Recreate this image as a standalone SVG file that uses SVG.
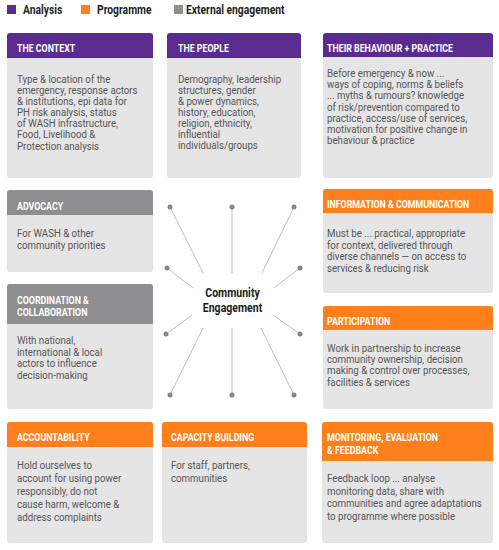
<svg xmlns="http://www.w3.org/2000/svg" width="499" height="550" viewBox="0 0 499 550">
<style>
.bg{fill:#e5e5e5}
.pu{fill:#5b2c8f}
.or{fill:#ff7f1c}
.gr{fill:#8e8e90}
.bt{font-family:Roboto,"Liberation Sans",sans-serif;font-size:11.4px;fill:#555557}
.ht{font-family:Roboto,"Liberation Sans",sans-serif;font-weight:700;font-size:11.3px;fill:#ffffff}
.lg{font-family:Roboto,"Liberation Sans",sans-serif;font-weight:700;font-size:12.3px;fill:#231f20}
.ce{font-family:Roboto,"Liberation Sans",sans-serif;font-weight:700;font-size:13.5px;fill:#1a1a1a}
.cn line{stroke:#bfbfbf;stroke-width:1}
.cn circle{fill:#858585}
</style>
<rect width="499" height="550" fill="#ffffff"/>
<g id="legend">
<rect x="7" y="5" width="9" height="9" class="pu"/>
<text class="lg" transform="translate(23,14) scale(0.84,1)">Analysis</text>
<rect x="81" y="5" width="9" height="9" class="or"/>
<text class="lg" transform="translate(97,14) scale(0.84,1)">Programme</text>
<rect x="174" y="5" width="9" height="9" class="gr"/>
<text class="lg" transform="translate(186,14) scale(0.84,1)">External engagement</text>
</g>
<g id="context">
<rect x="7" y="33" width="146" height="145" rx="3" class="bg"/>
<path d="M7,58V36a3,3 0 0 1 3,-3H150a3,3 0 0 1 3,3V58Z" class="pu"/>
<text class="ht" transform="translate(17,52) scale(0.78,1)">THE CONTEXT</text>
<text class="bt" transform="translate(17,83) scale(0.85,1)"><tspan x="0">Type &amp; location of the</tspan><tspan x="0" dy="11.1">emergency, response actors</tspan><tspan x="0" dy="11.1">&amp; institutions, epi data for</tspan><tspan x="0" dy="11.1">PH risk analysis, status</tspan><tspan x="0" dy="11.1">of WASH infrastructure,</tspan><tspan x="0" dy="11.1">Food, Livelihood &amp;</tspan><tspan x="0" dy="11.1">Protection analysis</tspan></text>
</g>
<g id="people">
<rect x="167" y="33" width="134" height="145" rx="3" class="bg"/>
<path d="M167,58V36a3,3 0 0 1 3,-3H298a3,3 0 0 1 3,3V58Z" class="pu"/>
<text class="ht" transform="translate(178,52) scale(0.78,1)">THE PEOPLE</text>
<text class="bt" transform="translate(178,82.5) scale(0.85,1)"><tspan x="0">Demography, leadership</tspan><tspan x="0" dy="11.1">structures, gender</tspan><tspan x="0" dy="11.1">&amp; power dynamics,</tspan><tspan x="0" dy="11.1">history, education,</tspan><tspan x="0" dy="11.1">religion, ethnicity,</tspan><tspan x="0" dy="11.1">influential</tspan><tspan x="0" dy="11.1">individuals/groups</tspan></text>
</g>
<g id="behaviour">
<rect x="323" y="33" width="170" height="145" rx="3" class="bg"/>
<path d="M323,57V36a3,3 0 0 1 3,-3H490a3,3 0 0 1 3,3V57Z" class="pu"/>
<text class="ht" transform="translate(327,51.5) scale(0.78,1)">THEIR BEHAVIOUR + PRACTICE</text>
<text class="bt" transform="translate(327,77) scale(0.85,1)"><tspan x="0">Before emergency &amp; now ...</tspan><tspan x="0" dy="11.2">ways of coping, norms &amp; beliefs</tspan><tspan x="0" dy="11.2">... myths &amp; rumours? knowledge</tspan><tspan x="0" dy="11.2">of risk/prevention compared to</tspan><tspan x="0" dy="11.2">practice, access/use of services,</tspan><tspan x="0" dy="11.2">motivation for positive change in</tspan><tspan x="0" dy="11.2">behaviour &amp; practice</tspan></text>
</g>
<g id="advocacy">
<rect x="7" y="190" width="146" height="82" rx="3" class="bg"/>
<path d="M7,215V193a3,3 0 0 1 3,-3H150a3,3 0 0 1 3,3V215Z" class="gr"/>
<text class="ht" transform="translate(17,209.5) scale(0.78,1)">ADVOCACY</text>
<text class="bt" transform="translate(17,237) scale(0.85,1)"><tspan x="0">For WASH &amp; other</tspan><tspan x="0" dy="11.6">community priorities</tspan></text>
</g>
<g id="coordination">
<rect x="7" y="284" width="146" height="125" rx="3" class="bg"/>
<path d="M7,324V287a3,3 0 0 1 3,-3H150a3,3 0 0 1 3,3V324Z" class="gr"/>
<text class="ht" transform="translate(17,304) scale(0.78,1)"><tspan x="0">COORDINATION &amp;</tspan><tspan x="0" dy="12.5">COLLABORATION</tspan></text>
<text class="bt" transform="translate(17,344) scale(0.85,1)"><tspan x="0">With national,</tspan><tspan x="0" dy="11.7">international &amp; local</tspan><tspan x="0" dy="11.7">actors to influence</tspan><tspan x="0" dy="11.7">decision-making</tspan></text>
</g>
<g id="information">
<rect x="323" y="189" width="170" height="104" rx="3" class="bg"/>
<path d="M323,213V192a3,3 0 0 1 3,-3H490a3,3 0 0 1 3,3V213Z" class="or"/>
<text class="ht" transform="translate(327,208) scale(0.78,1)">INFORMATION &amp; COMMUNICATION</text>
<text class="bt" transform="translate(327,237) scale(0.85,1)"><tspan x="0">Must be ... practical, appropriate</tspan><tspan x="0" dy="11.7">for context, delivered through</tspan><tspan x="0" dy="11.7">diverse channels — on access to</tspan><tspan x="0" dy="11.7">services &amp; reducing risk</tspan></text>
</g>
<g id="participation">
<rect x="323" y="306" width="170" height="103" rx="3" class="bg"/>
<path d="M323,330V309a3,3 0 0 1 3,-3H490a3,3 0 0 1 3,3V330Z" class="or"/>
<text class="ht" transform="translate(327,325) scale(0.78,1)">PARTICIPATION</text>
<text class="bt" transform="translate(327,352) scale(0.85,1)"><tspan x="0">Work in partnership to increase</tspan><tspan x="0" dy="11.2">community ownership, decision</tspan><tspan x="0" dy="11.2">making &amp; control over processes,</tspan><tspan x="0" dy="11.2">facilities &amp; services</tspan></text>
</g>
<g id="accountability">
<rect x="7" y="422" width="146" height="121" rx="3" class="bg"/>
<path d="M7,447V425a3,3 0 0 1 3,-3H150a3,3 0 0 1 3,3V447Z" class="or"/>
<text class="ht" transform="translate(17,441) scale(0.78,1)">ACCOUNTABILITY</text>
<text class="bt" transform="translate(17,469) scale(0.85,1)"><tspan x="0">Hold ourselves to</tspan><tspan x="0" dy="13.1">account for using power</tspan><tspan x="0" dy="13.1">responsibly, do not</tspan><tspan x="0" dy="13.1">cause harm, welcome &amp;</tspan><tspan x="0" dy="13.1">address complaints</tspan></text>
</g>
<g id="capacity">
<rect x="162" y="422" width="145" height="121" rx="3" class="bg"/>
<path d="M162,447V425a3,3 0 0 1 3,-3H304a3,3 0 0 1 3,3V447Z" class="or"/>
<text class="ht" transform="translate(171,441) scale(0.78,1)">CAPACITY BUILDING</text>
<text class="bt" transform="translate(171,469) scale(0.85,1)"><tspan x="0">For staff, partners,</tspan><tspan x="0" dy="12.7">communities</tspan></text>
</g>
<g id="monitoring">
<rect x="322" y="422" width="171" height="121" rx="3" class="bg"/>
<path d="M322,461V425a3,3 0 0 1 3,-3H490a3,3 0 0 1 3,3V461Z" class="or"/>
<text class="ht" transform="translate(327,441) scale(0.78,1)"><tspan x="0">MONITORING, EVALUATION</tspan><tspan x="0" dy="13">&amp; FEEDBACK</tspan></text>
<text class="bt" transform="translate(327,482) scale(0.85,1)"><tspan x="0">Feedback loop ... analyse</tspan><tspan x="0" dy="12.7">monitoring data, share with</tspan><tspan x="0" dy="12.7">communities and agree adaptations</tspan><tspan x="0" dy="12.7">to programme where possible</tspan></text>
</g>
<g id="center">
<text class="ce" text-anchor="middle" transform="translate(232.5,297) scale(0.78,1)">Community</text>
<text class="ce" text-anchor="middle" transform="translate(232.5,312) scale(0.78,1)">Engagement</text>
</g>
<g id="connectors" class="cn">
<line x1="170" y1="207" x2="203" y2="273"/>
<line x1="232" y1="207" x2="232" y2="273"/>
<line x1="294" y1="207" x2="262" y2="273"/>
<line x1="167" y1="268" x2="193" y2="288"/>
<line x1="300" y1="268" x2="274" y2="288"/>
<line x1="166" y1="334" x2="192" y2="315"/>
<line x1="300" y1="334" x2="273" y2="315"/>
<line x1="170" y1="395" x2="203" y2="328"/>
<line x1="232" y1="395" x2="232" y2="328"/>
<line x1="294" y1="395" x2="261" y2="328"/>
<circle cx="170" cy="207" r="2.5"/>
<circle cx="232" cy="207" r="2.5"/>
<circle cx="294" cy="207" r="2.5"/>
<circle cx="167" cy="268" r="2.5"/>
<circle cx="300" cy="268" r="2.5"/>
<circle cx="166" cy="334" r="2.5"/>
<circle cx="300" cy="334" r="2.5"/>
<circle cx="170" cy="395" r="2.5"/>
<circle cx="232" cy="395" r="2.5"/>
<circle cx="294" cy="395" r="2.5"/>
</g>
</svg>
